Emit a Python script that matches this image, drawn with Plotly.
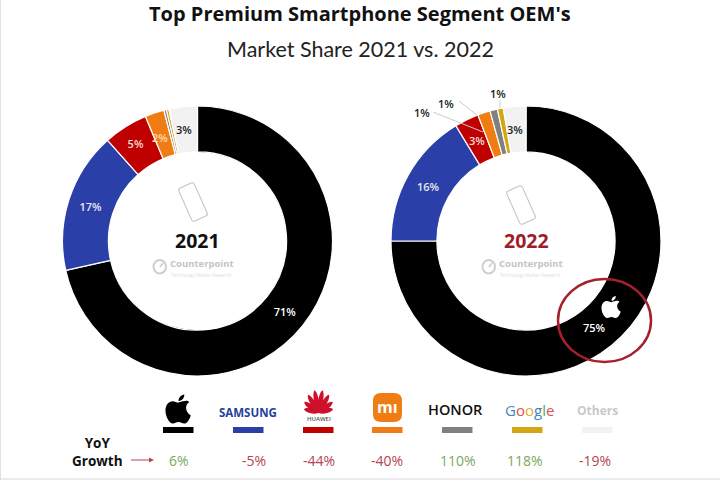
import math
import plotly.graph_objects as go

W, H = 720, 480

oems = ["Apple", "Samsung", "Huawei", "Xiaomi", "Honor", "Google", "Others"]
colors = ["#000000", "#2b3fa8", "#c00000", "#f07d14", "#808080", "#d4a514", "#f2f2f2"]
share_2021 = [71.5, 16.9, 5.3, 2.3, 0.3, 0.3, 3.4]
share_2022 = [75.0, 16.3, 2.9, 1.5, 0.9, 0.7, 2.7]
text_2021 = ["71%", "17%", "5%", "", "", "", ""]
text_2022 = ["", "16%", "", "", "", "", ""]
text_colors = ["#ffffff", "#e8e8f0", "#f4dcdc", "#fbd9b0", "#ffffff", "#ffffff", "#222222"]
growth = ["6%", "-5%", "-44%", "-40%", "110%", "118%", "-19%"]
growth_x = [179, 254, 319, 387, 458, 525, 595]
bar_x = [163, 233, 303, 372, 442, 512, 582]
GREEN = "#7aa95c"
RED = "#b5444f"


def px(x):
    return x / W


def py(y):
    return 1 - y / H


def note(x, y, text, size=11, color="#222222", family="Open Sans", bold=False, weight=None):
    if bold:
        text = "<b>" + text + "</b>"
    font = dict(size=size, color=color, family=family)
    if weight:
        font["weight"] = weight
    return dict(x=px(x), y=py(y), xref="paper", yref="paper", text=text, showarrow=False,
                xanchor="center", yanchor="middle", font=font)


def rect(x0, y0, x1, y1, color):
    return dict(type="rect", xref="paper", yref="paper", x0=px(x0), x1=px(x1), y0=py(y0), y1=py(y1),
                fillcolor=color, line_width=0)


def line(x0, y0, x1, y1, color, width=1):
    return dict(type="line", xref="paper", yref="paper", x0=px(x0), x1=px(x1), y0=py(y0), y1=py(y1),
                line=dict(color=color, width=width))


def path(d, fill, line_color=None, width=0):
    return dict(type="path", xref="paper", yref="paper", path=d, fillcolor=fill,
                line=dict(color=line_color or fill, width=width))


def to_path(cmds):
    # cmds is a list of (letter, pixel points); output goes in paper coordinates
    out = []
    for c, pts in cmds:
        out.append(c + " " + " ".join(f"{px(x):.5f},{py(y):.5f}" for x, y in pts))
    return " ".join(out) + " Z"


def apple(cx, cy, h, color):
    s = h / 100
    def p(*xy):
        return [(cx + (xy[i] - 48) * s * 0.9, cy + (xy[i + 1] - 50) * s) for i in range(0, len(xy), 2)]
    body = to_path([("M", p(50, 28)), ("C", p(42, 28, 36, 23, 27, 23)), ("C", p(13, 23, 0, 35, 0, 55)),
                    ("C", p(0, 78, 16, 100, 28, 100)), ("C", p(36, 100, 40, 95, 50, 95)),
                    ("C", p(60, 95, 63, 100, 72, 100)), ("C", p(84, 100, 93, 84, 97, 72)),
                    ("C", p(84, 66, 79, 55, 79, 46)), ("C", p(79, 36, 85, 30, 91, 27)),
                    ("C", p(84, 18, 72, 22, 50, 28))])
    leaf = to_path([("M", p(50, 22)), ("C", p(50, 10, 60, 1, 72, 0)), ("C", p(73, 12, 62, 23, 50, 22))])
    return [path(body, color), path(leaf, color)]


def phone(cx, cy, w, h, deg, color="#c4c4c4"):
    a = math.radians(deg)
    def p(x, y):
        return (cx + x * math.cos(a) - y * math.sin(a), cy + x * math.sin(a) + y * math.cos(a))
    hw, hh, r = w / 2, h / 2, 2.5
    d = to_path([("M", [p(-hw + r, -hh)]), ("L", [p(hw - r, -hh)]), ("Q", [p(hw, -hh), p(hw, -hh + r)]),
                 ("L", [p(hw, hh - r)]), ("Q", [p(hw, hh), p(hw - r, hh)]), ("L", [p(-hw + r, hh)]),
                 ("Q", [p(-hw, hh), p(-hw, hh - r)]), ("L", [p(-hw, -hh + r)]), ("Q", [p(-hw, -hh), p(-hw + r, -hh)])])
    return path(d, "rgba(255,255,255,0)", color, 1.1)


def counterpoint(cx):
    # logo sits left of the word, cx is the donut centre
    return (
        [dict(type="circle", xref="paper", yref="paper", x0=px(cx - 43.5), x1=px(cx - 31), y0=py(273.5), y1=py(260),
              line=dict(color="#cfcfcf", width=2), fillcolor="rgba(0,0,0,0)"),
         line(cx - 37, 267, cx - 34, 263, "#cfcfcf", 1.5)],
        [note(cx + 4.5, 263.5, "Counterpoint", 9.5, "#c4c4c4", "Open Sans", True),
         note(cx + 4.5, 274.5, "Technology Market Research", 4.5, "#dddddd")],
    )


def petal(bx, by, deg, length, width, color):
    a = math.radians(deg)
    def p(along, side):
        return (bx + along * math.sin(a) + side * math.cos(a), by - along * math.cos(a) + side * math.sin(a))
    d = to_path([("M", [p(0, 0)]), ("C", [p(length * 0.3, width), p(length * 0.9, width * 0.9), p(length, 0)]),
                 ("C", [p(length * 0.9, -width * 0.9), p(length * 0.3, -width), p(0, 0)])])
    return path(d, color)


def donut(values, text, x0, x1):
    return go.Pie(values=values, labels=oems, text=text, textinfo="text", sort=False, direction="clockwise",
                  rotation=0, hole=0.66, domain=dict(x=[px(x0), px(x1)], y=[py(376), py(106)]),
                  marker=dict(colors=colors, line=dict(color="#ffffff", width=1.2)),
                  textposition="inside", insidetextorientation="horizontal",
                  insidetextfont=dict(size=11, family="Open Sans", color=text_colors, weight=600),
                  showlegend=False, hoverinfo="label+percent")


fig = go.Figure([donut(share_2021, text_2021, 62.5, 332.5), donut(share_2022, text_2022, 391, 661)])

shapes = []
notes = [
    note(360, 13, "Top Premium Smartphone Segment OEM's", 20, "#111111", "Open Sans", True),
    note(360, 49, "Market Share 2021 vs. 2022", 21.5, "#222222", "Lato"),
    note(197, 240, "2021", 19.5, "#111111", "Open Sans", True),
    note(526, 240, "2022", 19.5, "#a01c28", "Open Sans", True),
    # narrow slices: plotly pushes their text to the rim, so these go by hand
    note(160, 137, "2%", 11, "#fbd9b0", weight=600),
    note(184, 130, "3%", 11, "#222222", weight=600),
    note(477, 141, "3%", 11, "#f4dcdc", weight=600),
    note(515, 130, "3%", 11, "#222222", weight=600),
    note(594, 327, "75%", 11, "#ffffff", weight=600),
    note(422, 113, "1%", 11, weight=600),
    note(446, 103, "1%", 11, weight=600),
    note(498, 94, "1%", 11, weight=600),
    note(97, 451.5, "YoY<br>Growth", 13.5, "#111111", "Open Sans", True),
    note(248, 412, "SAMSUNG", 11.5, "#1f3f9e", "Open Sans", True),
    note(319, 419, "HUAWEI", 6, "#555555", weight=600),
    note(387.5, 407, "mı", 16, "#ffffff", "Open Sans", True),
    note(455, 409, "HONOR", 14.5, "#111111", "Open Sans", weight=600),
    note(529, 410, "<span style='color:#4285c4'>G</span><span style='color:#d9534a'>o</span>"
                   "<span style='color:#e0b02c'>o</span><span style='color:#4285c4'>g</span>"
                   "<span style='color:#5aa85a'>l</span><span style='color:#d9534a'>e</span>", 15, "#4285c4"),
    note(597, 410, "Others", 12, "#c9c9c9", "Open Sans", True),
]

for x, c in zip(bar_x, colors):
    shapes.append(rect(x, 427, x + 30.5, 433, c))
for x, g in zip(growth_x, growth):
    notes.append(note(x, 460, g, 14, RED if g.startswith("-") else GREEN, weight=500))

shapes += [
    line(433, 112, 483, 132, "#cccccc"),
    line(459, 101, 477, 115, "#cccccc"),
    line(500, 100, 500, 108, "#cccccc"),
    line(131, 460, 151, 460, "#b5444f"),
    path(to_path([("M", [(149, 457.5)]), ("L", [(154, 460)]), ("L", [(149, 462.5)])]), "#b5444f"),
    dict(type="circle", xref="paper", yref="paper", x0=px(558), x1=px(651), y0=py(362), y1=py(279),
         line=dict(color="#a5202c", width=2.5), fillcolor="rgba(0,0,0,0)"),
    phone(193, 202, 17, 36, -24),
    phone(521, 205, 17, 36, -24),
    line(0.5, 0, 0.5, 480, "#e2e2e2"),
    line(0, 479, 720, 479, "#d8d8d8"),
]
shapes += apple(611, 307, 22, "#ffffff")
shapes += apple(178, 409, 29, "#000000")

# huawei fan
for deg, length in [(-75, 15), (-52, 18), (-30, 21), (-10, 23), (10, 23), (30, 21), (52, 18), (75, 15)]:
    shapes.append(petal(318.5, 413, deg, length, 3.4, "#cf102d"))

# mi logo background
shapes.append(path(to_path([("M", [(381, 393)]), ("L", [(394, 393)]), ("Q", [(402, 393), (402, 401)]),
                            ("L", [(402, 414)]), ("Q", [(402, 422), (394, 422)]), ("L", [(381, 422)]),
                            ("Q", [(373, 422), (373, 414)]), ("L", [(373, 401)]), ("Q", [(373, 393), (381, 393)])]),
                   "#f07d14"))

for cx in (197, 526):
    s, n = counterpoint(cx)
    shapes += s
    notes += n

fig.update_layout(width=W, height=H, margin=dict(l=0, r=0, t=0, b=0), paper_bgcolor="#ffffff",
                  plot_bgcolor="#ffffff", shapes=shapes, annotations=notes)
# the page body has a default 8px margin which would push everything off
fig.write_html("out.html", config={"displayModeBar": False},
               post_script="document.body.style.margin='0';document.body.style.overflow='hidden';")
